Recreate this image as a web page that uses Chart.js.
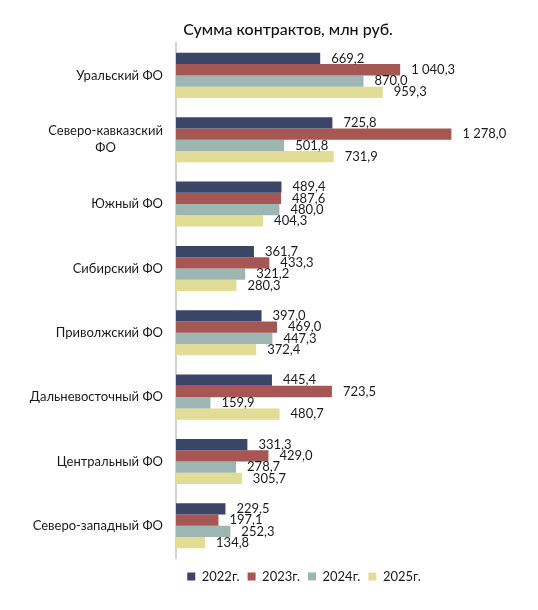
<!DOCTYPE html>
<html>
<head>
<meta charset="utf-8">
<script src="https://cdn.jsdelivr.net/npm/chart.js@4"></script>
<style>
  body { margin: 0; background: #fff; }
  #wrap { width: 538px; height: 610px; position: relative; }
</style>
</head>
<body>
<div id="wrap"><canvas id="myChart"></canvas></div>
<script>
const regions = ['Уральский ФО', ['Северо-кавказский', 'ФО'], 'Южный ФО', 'Сибирский ФО',
  'Приволжский ФО', 'Дальневосточный ФО', 'Центральный ФО', 'Северо-западный ФО'];
const years = ['2022г.', '2023г.', '2024г.', '2025г.'];
const values2022 = [669.2, 725.8, 489.4, 361.7, 397.0, 445.4, 331.3, 229.5];
const values2023 = [1040.3, 1278.0, 487.6, 433.3, 469.0, 723.5, 429.0, 197.1];
const values2024 = [870.0, 501.8, 480.0, 321.2, 447.3, 159.9, 278.7, 252.3];
const values2025 = [959.3, 731.9, 404.3, 280.3, 372.4, 480.7, 305.7, 134.8];
const colors = ['#3b4568', '#a65653', '#9db6b3', '#e1dc96'];
const titleText = 'Сумма контрактов, млн руб.';

const FONT = 'Lato, "Noto Sans", sans-serif';

function fmt(v) {
  let s = v.toFixed(1).split('.');
  let int = s[0].replace(/\B(?=(\d{3})+(?!\d))/g, ' ');
  return int + ',' + s[1];
}

// value labels right of each bar
const barLabels = {
  id: 'barLabels',
  afterDatasetsDraw(chart) {
    const ctx = chart.ctx;
    ctx.save();
    ctx.font = '13px ' + FONT;
    ctx.fillStyle = '#1a1a1a';
    ctx.textAlign = 'left';
    ctx.textBaseline = 'middle';
    chart.data.datasets.forEach((ds, i) => {
      chart.getDatasetMeta(i).data.forEach((bar, j) => {
        ctx.fillText(fmt(ds.data[j]), bar.x + 11, bar.y);
      });
    });
    ctx.restore();
  }
};

// category labels (lines centred on each other) and the title
const textLayer = {
  id: 'textLayer',
  afterDraw(chart) {
    const ctx = chart.ctx;
    const y = chart.scales.y;
    ctx.save();
    ctx.font = '13px ' + FONT;
    ctx.fillStyle = '#1a1a1a';
    ctx.textAlign = 'center';
    ctx.textBaseline = 'middle';
    const right = chart.chartArea.left - 13;
    regions.forEach((lab, i) => {
      const lines = Array.isArray(lab) ? lab : [lab];
      const w = Math.max(...lines.map(l => ctx.measureText(l).width));
      const cy = y.getPixelForTick(i);
      const lh = 17;
      lines.forEach((l, k) => {
        ctx.fillText(l, right - w / 2, cy + (k - (lines.length - 1) / 2) * lh);
      });
    });
    ctx.font = '500 16px ' + FONT;
    ctx.fillStyle = '#111';
    ctx.fillText(titleText, 288, 30);
    ctx.restore();
  }
};

const data = {
  labels: regions,
  datasets: [
    { label: years[0], data: values2022, backgroundColor: colors[0] },
    { label: years[1], data: values2023, backgroundColor: colors[1] },
    { label: years[2], data: values2024, backgroundColor: colors[2] },
    { label: years[3], data: values2025, backgroundColor: colors[3] }
  ]
};

const config = {
  type: 'bar',
  data: data,
  options: {
    indexAxis: 'y',
    responsive: true,
    maintainAspectRatio: false,
    animation: false,
    datasets: { bar: { categoryPercentage: 0.7, barPercentage: 1.0 } },
    layout: { padding: { left: 70, right: 0, top: 0, bottom: 17 } },
    scales: {
      x: { display: false, min: 0, max: 1680 },
      y: {
        grid: { display: false },
        border: { display: true, color: '#d4d4d4', width: 2 },
        ticks: { display: false },
        afterFit(scale) { scale.width = 106; }
      }
    },
    plugins: {
      title: {
        display: true,
        text: titleText,
        color: 'rgba(0,0,0,0)',
        font: { family: FONT, size: 16, weight: '500' },
        padding: { top: 20, bottom: 4 }
      },
      legend: {
        position: 'bottom',
        title: { display: true, text: '', padding: 0, font: { size: 4, lineHeight: 1 } },
        labels: {
          boxWidth: 8, boxHeight: 8, padding: 8,
          color: '#1a1a1a',
          font: { family: FONT, size: 13 }
        }
      },
      tooltip: { enabled: false }
    }
  },
  plugins: [barLabels, textLayer]
};

const myChart = new Chart(document.getElementById('myChart'), config);
</script>
</body>
</html>
